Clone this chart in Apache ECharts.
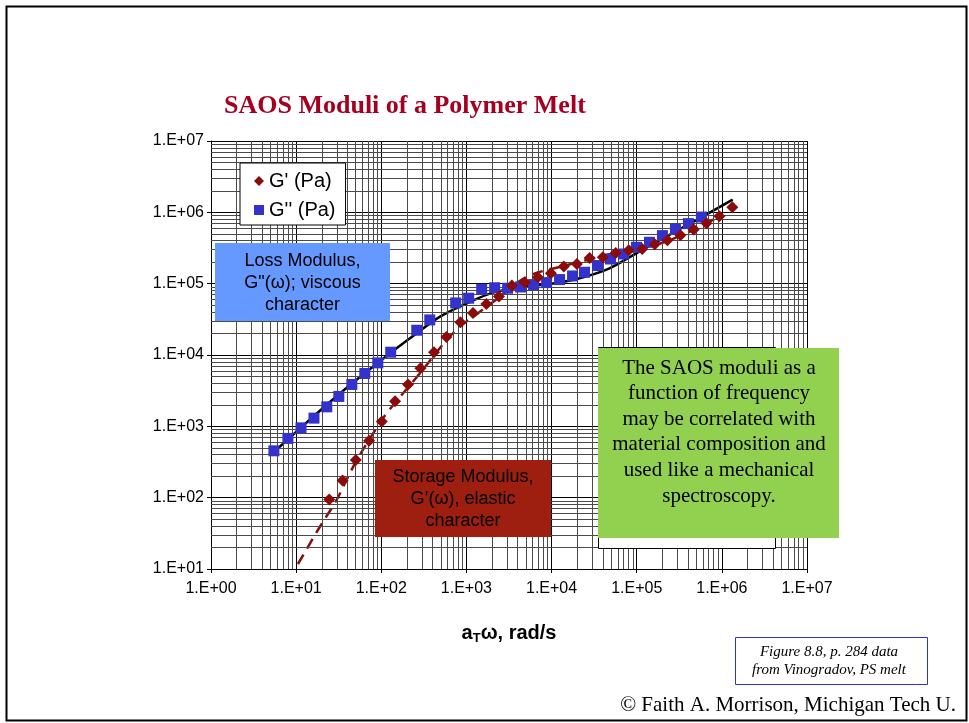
<!DOCTYPE html>
<html><head><meta charset="utf-8">
<script src="https://cdn.jsdelivr.net/npm/echarts@6/dist/echarts.min.js"></script>
<style>html,body{margin:0;padding:0;background:#fff}#c{width:969px;height:723px}</style>
</head><body><div id="c"></div>
<script>
// ---- data ----
const xTickValues = [1, 10, 100, 1000, 10000, 100000, 1000000, 10000000];
const xTickLabels = ['1.E+00','1.E+01','1.E+02','1.E+03','1.E+04','1.E+05','1.E+06','1.E+07'];
const yTickValues = [10, 100, 1000, 10000, 100000, 1000000, 10000000];
const yTickLabels = ['1.E+01','1.E+02','1.E+03','1.E+04','1.E+05','1.E+06','1.E+07'];

// G'' (Pa) - loss modulus points
const gppFreq = [5.48, 8.0, 11.4, 16.2, 22.9, 31.7, 45.1, 64.0, 91.0, 129, 261, 371, 748, 1063, 1510, 2145,
  3048, 4327, 6150, 8735, 12410, 17630, 24380, 34650, 49220, 69960, 99310, 141200, 200500, 285000, 404700, 575000];
const gppVal = [454, 677, 953, 1303, 1876, 2624, 3863, 5508, 7748, 10940, 22240, 31040, 53700, 62500, 83530, 87650,
  86250, 89900, 97100, 103500, 114100, 128200, 144500, 179400, 221800, 260600, 323600, 380200, 472000, 583500, 695000, 859000];

// G' (Pa) - storage modulus points
const gpFreq = [24.5, 35.1, 50.2, 71.9, 101.4, 145.2, 206.3, 288.4, 416, 582, 849, 1194, 1714, 2410, 3420, 4864,
  6905, 9816, 13930, 19810, 27920, 39990, 56770, 80690, 115900, 162900, 229600, 326100, 466700, 657700, 935000, 1328000];
const gpVal = [94, 174.7, 336, 630, 1171, 2254, 3863, 6531, 10940, 17910, 28790, 38900, 51970, 65920, 94000, 103500,
  123000, 139900, 173400, 188800, 229100, 234300, 269100, 293700, 306200, 356500, 405500, 476400, 572500, 701500, 879000, 1175000];

// fit curves
const fitGppFreq = [5.63, 32.6, 125.9, 258.8, 485, 998, 2048, 4605, 10360, 21300, 47900, 98600, 184900, 454600, 1340000];
const fitGppVal = [450, 2890, 10500, 20000, 34200, 52600, 75000, 89900, 100300, 119100, 164300, 266600, 405500, 731000, 1507000];
const fitGpFreq = [10.5, 19.0, 29.8, 46.7, 80.1, 115.1, 283, 582, 833, 1430, 2455, 5050, 12410, 30500, 75200, 184900, 454600, 935000];
const fitGpVal = [11.75, 39.1, 92.5, 271, 795, 1517, 5508, 16110, 24770, 40150, 65100, 124100, 171400, 224800, 293700, 364700, 559800, 879000];

const seriesNames = ["G' (Pa)", "G'' (Pa)"];

// ---- build ----
const pair = (a, b) => a.map((v, i) => [v, b[i]]);
const minors = (lo, hi) => { const r = []; for (let d = lo; d < hi; d *= 10) for (let k = 2; k <= 9; k++) r.push(d * k); return r; };
const labelOf = (vals, labs) => v => { const i = vals.findIndex(t => Math.abs(Math.log10(t) - Math.log10(v)) < 1e-6); return i >= 0 ? labs[i] : ''; };

const gridMarks = minors(1, 1e7).map(v => ({ xAxis: v })).concat(minors(10, 1e7).map(v => ({ yAxis: v })));

const chart = echarts.init(document.getElementById('c'), null, { renderer: 'canvas' });
chart.setOption({
  animation: false,
  backgroundColor: '#fff',
  grid: { left: 211, right: 162, top: 141, bottom: 154, show: false },
  legend: {
    data: seriesNames,
    left: 240, top: 163, orient: 'vertical',
    backgroundColor: '#fff', borderColor: '#000', borderWidth: 1,
    padding: [8, 10, 5, 14], itemGap: 9, itemWidth: 10, itemHeight: 10,
    textStyle: { fontFamily: 'Liberation Sans, Arial', fontSize: 20, color: '#000' },
    z: 20
  },
  xAxis: {
    type: 'log', logBase: 10, min: 1, max: 1e7,
    axisLine: { lineStyle: { color: '#000', width: 1 } },
    axisTick: { show: true, length: 4, lineStyle: { color: '#000' } },
    axisLabel: { margin: 12, fontFamily: 'Liberation Sans, Arial', fontSize: 16, color: '#000',
      formatter: labelOf(xTickValues, xTickLabels) },
    splitLine: { show: true, lineStyle: { color: '#000', width: 1 } },
    name: '{a|a}{s|T}{a|ω, rad/s}',
    nameLocation: 'middle', nameGap: 53,
    nameTextStyle: { rich: {
      a: { fontFamily: 'Liberation Sans, Arial', fontWeight: 'bold', fontSize: 20, color: '#000' },
      s: { fontFamily: 'Liberation Sans, Arial', fontWeight: 'bold', fontSize: 13, color: '#000', padding: [10, 0, 0, 0] }
    } }
  },
  yAxis: {
    type: 'log', logBase: 10, min: 10, max: 1e7,
    axisLine: { show: true, lineStyle: { color: '#000', width: 1 } },
    axisTick: { show: true, length: 4, lineStyle: { color: '#000' } },
    axisLabel: { margin: 7, fontFamily: 'Liberation Sans, Arial', fontSize: 16, color: '#000',
      formatter: labelOf(yTickValues, yTickLabels) },
    splitLine: { show: true, lineStyle: { color: '#000', width: 1 } }
  },
  series: [
    {
      name: 'grid', type: 'line', data: [], z: 1, silent: true,
      markLine: {
        silent: true, symbol: ['none', 'none'], label: { show: false },
        lineStyle: { color: '#4a4a4a', width: 1, type: 'solid' },
        emphasis: { disabled: true },
        data: gridMarks
      }
    },
    {
      name: 'fitGpp', type: 'line', data: pair(fitGppFreq, fitGppVal), smooth: 0.35,
      showSymbol: false, lineStyle: { color: '#000', width: 2.5 }, z: 3, silent: true
    },
    {
      name: 'fitGp', type: 'line', data: pair(fitGpFreq, fitGpVal), smooth: 0.35,
      showSymbol: false, lineStyle: { color: '#8B0A0A', width: 2.5, type: [11, 7] }, z: 3, silent: true
    },
    {
      name: seriesNames[1], type: 'scatter', data: pair(gppFreq, gppVal),
      symbol: 'rect', symbolSize: 11, itemStyle: { color: '#3333CC', opacity: 1 }, z: 5
    },
    {
      name: seriesNames[0], type: 'scatter', data: pair(gpFreq, gpVal),
      symbol: 'diamond', symbolSize: 12, itemStyle: { color: '#8B0A0A', opacity: 1 }, z: 6
    }
  ],
  graphic: [
    { type: 'rect', left: 4, top: 4, shape: { width: 960, height: 714 }, style: { fill: 'none', stroke: '#000', lineWidth: 2 }, z: 100, silent: true },
    { type: 'text', left: 224, top: 93, style: { text: 'SAOS Moduli of a Polymer Melt', fill: '#A50021',
      font: 'bold 26px "Liberation Serif", "Times New Roman", serif' }, z: 100 },
    // loss modulus note
    { type: 'rect', left: 215, top: 243, shape: { width: 175, height: 78 }, style: { fill: '#6699FF' }, z: 50 },
    { type: 'text', x: 302.5, y: 283, style: { text: 'Loss Modulus,\nG"(ω); viscous\ncharacter', fill: '#000',
      font: '18px "Liberation Sans", Arial', align: 'center', verticalAlign: 'middle', lineHeight: 22 }, z: 51 },
    // storage modulus note
    { type: 'rect', left: 375, top: 460, shape: { width: 176, height: 77 }, style: { fill: '#9E1E10' }, z: 50 },
    { type: 'text', x: 463, y: 499, style: { text: 'Storage Modulus,\nG’(ω), elastic\ncharacter', fill: '#000',
      font: '18px "Liberation Sans", Arial', align: 'center', verticalAlign: 'middle', lineHeight: 22 }, z: 51 },
    // green note
    { type: 'rect', left: 598, top: 347, shape: { width: 177, height: 201 }, style: { fill: '#fff', stroke: '#000', lineWidth: 1 }, z: 49 },
    { type: 'rect', left: 598, top: 348, shape: { width: 241, height: 190 }, style: { fill: '#92D050' }, z: 50 },
    { type: 'text', x: 719, y: 432, style: { text: 'The SAOS moduli as a\nfunction of frequency\nmay be correlated with\nmaterial composition and\nused like a mechanical\nspectroscopy.',
      fill: '#000', font: '21px "Liberation Serif", "Times New Roman", serif', align: 'center', verticalAlign: 'middle', lineHeight: 25.6 }, z: 51 },
    // citation
    { type: 'rect', left: 735, top: 637, shape: { width: 192, height: 47 }, style: { fill: '#fff', stroke: '#3333CC', lineWidth: 1 }, z: 50 },
    { type: 'text', x: 829, y: 661, style: { text: 'Figure 8.8, p. 284 data\nfrom Vinogradov, PS melt', fill: '#000',
      font: 'italic 15px "Liberation Serif", "Times New Roman", serif', align: 'center', verticalAlign: 'middle', lineHeight: 17.5 }, z: 51 },
    { type: 'text', x: 956, y: 705, style: { text: '© Faith A. Morrison, Michigan Tech U.', fill: '#000',
      font: '21px "Liberation Serif", "Times New Roman", serif', align: 'right', verticalAlign: 'middle' }, z: 51 }
  ]
});
</script></body></html>
